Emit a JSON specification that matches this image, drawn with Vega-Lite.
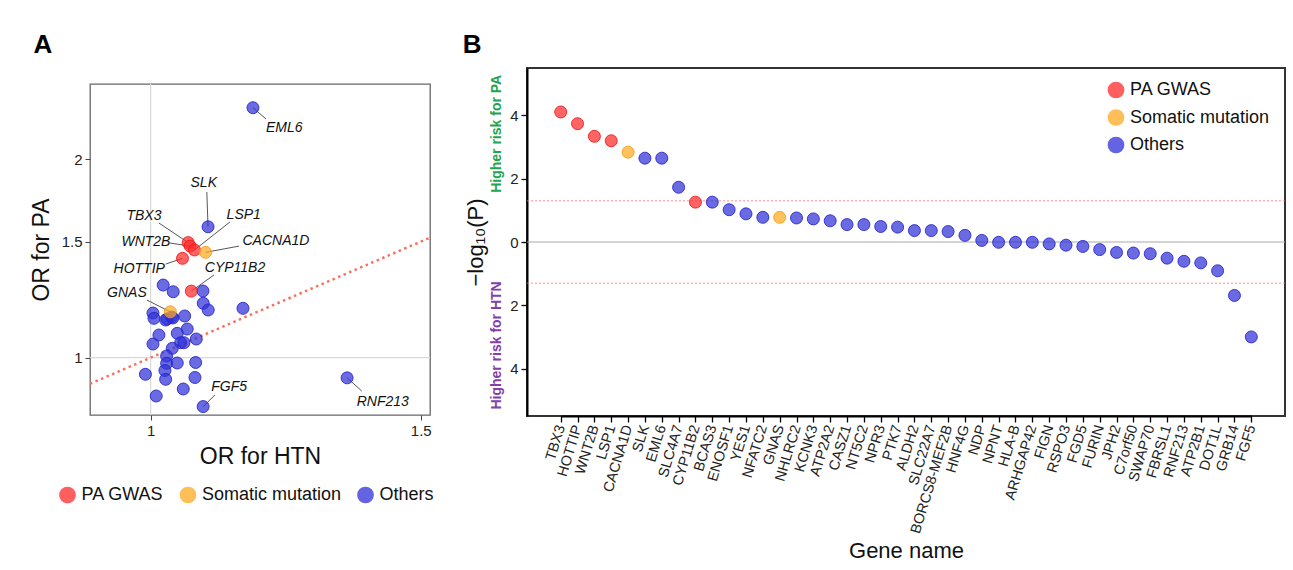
{
  "$schema": "https://vega.github.io/schema/vega-lite/v6.json",
  "padding": {"left": 29, "top": 31, "right": 5, "bottom": 5},
  "background": "white",
  "config": {
    "font": "Liberation Sans",
    "axis": {"grid": false, "labelFont": "Liberation Sans", "titleFont": "Liberation Sans", "labelColor": "#222", "titleColor": "#111", "titleFontWeight": "normal"},
    "legend": {"labelFont": "Liberation Sans"},
    "title": {"font": "Liberation Sans"}
  },
  "align": "none",
  "spacing": 26,
  "resolve": {"scale": {"fill": "independent", "stroke": "independent", "color": "independent"}, "legend": {"fill": "independent", "stroke": "independent", "color": "independent"}},
  "datasets": {
    "genes": [
      {"gene": "TBX3", "group": "PA GWAS", "orHTN": 1.058, "orPA": 1.495, "logp": 4.11},
      {"gene": "HOTTIP", "group": "PA GWAS", "orHTN": 1.049, "orPA": 1.415, "logp": 3.74},
      {"gene": "WNT2B", "group": "PA GWAS", "orHTN": 1.061, "orPA": 1.477, "logp": 3.34},
      {"gene": "LSP1", "group": "PA GWAS", "orHTN": 1.068, "orPA": 1.457, "logp": 3.2},
      {"gene": "CACNA1D", "group": "Somatic mutation", "orHTN": 1.086, "orPA": 1.445, "logp": 2.84},
      {"gene": "SLK", "group": "Others", "orHTN": 1.09, "orPA": 1.58, "logp": 2.65},
      {"gene": "EML6", "group": "Others", "orHTN": 1.166, "orPA": 2.395, "logp": 2.65},
      {"gene": "SLC4A7", "group": "Others", "orHTN": 1.019, "orPA": 1.289, "logp": 1.73},
      {"gene": "CYP11B2", "group": "PA GWAS", "orHTN": 1.063, "orPA": 1.262, "logp": 1.26},
      {"gene": "BCAS3", "group": "Others", "orHTN": 1.0345, "orPA": 1.259, "logp": 1.26},
      {"gene": "ENOSF1", "group": "Others", "orHTN": 1.0817, "orPA": 1.2625, "logp": 1.02},
      {"gene": "YES1", "group": "Others", "orHTN": 1.0035, "orPA": 1.169, "logp": 0.89},
      {"gene": "NFATC2", "group": "Others", "orHTN": 1.005, "orPA": 1.1476, "logp": 0.78},
      {"gene": "GNAS", "group": "Somatic mutation", "orHTN": 1.03, "orPA": 1.174, "logp": 0.78},
      {"gene": "NHLRC2", "group": "Others", "orHTN": 1.0822, "orPA": 1.2094, "logp": 0.76},
      {"gene": "KCNK3", "group": "Others", "orHTN": 1.032, "orPA": 1.1528, "logp": 0.73},
      {"gene": "ATP2A2", "group": "Others", "orHTN": 1.0252, "orPA": 1.1448, "logp": 0.67},
      {"gene": "CASZ1", "group": "Others", "orHTN": 1.0228, "orPA": 1.1408, "logp": 0.55},
      {"gene": "NT5C2", "group": "Others", "orHTN": 1.034, "orPA": 1.149, "logp": 0.55},
      {"gene": "NPR3", "group": "Others", "orHTN": 1.0524, "orPA": 1.1569, "logp": 0.49},
      {"gene": "PTK7", "group": "Others", "orHTN": 1.0903, "orPA": 1.1814, "logp": 0.47},
      {"gene": "ALDH2", "group": "Others", "orHTN": 1.0125, "orPA": 1.0825, "logp": 0.36},
      {"gene": "SLC22A7", "group": "Others", "orHTN": 1.0565, "orPA": 1.1055, "logp": 0.36},
      {"gene": "BORCS8-MEF2B", "group": "Others", "orHTN": 1.0408, "orPA": 1.089, "logp": 0.33},
      {"gene": "HNF4G", "group": "Others", "orHTN": 1.0035, "orPA": 1.049, "logp": 0.21},
      {"gene": "NDP", "group": "Others", "orHTN": 1.1487, "orPA": 1.1884, "logp": 0.05},
      {"gene": "NPNT", "group": "Others", "orHTN": 1.0461, "orPA": 1.0538, "logp": -0.01},
      {"gene": "HLA-B", "group": "Others", "orHTN": 1.0513, "orPA": 1.0538, "logp": -0.01},
      {"gene": "ARHGAP42", "group": "Others", "orHTN": 1.033, "orPA": 1.0334, "logp": -0.01},
      {"gene": "FIGN", "group": "Others", "orHTN": 1.0709, "orPA": 1.0675, "logp": -0.06},
      {"gene": "RSPO3", "group": "Others", "orHTN": 1.0243, "orPA": 1.006, "logp": -0.1},
      {"gene": "FGD5", "group": "Others", "orHTN": 1.0243, "orPA": 0.9806, "logp": -0.14},
      {"gene": "FURIN", "group": "Others", "orHTN": 0.9922, "orPA": 0.9437, "logp": -0.24},
      {"gene": "JPH2", "group": "Others", "orHTN": 1.0408, "orPA": 0.9817, "logp": -0.33},
      {"gene": "C7orf50", "group": "Others", "orHTN": 1.0217, "orPA": 0.9563, "logp": -0.35},
      {"gene": "SWAP70", "group": "Others", "orHTN": 1.0699, "orPA": 0.9834, "logp": -0.37},
      {"gene": "FBRSL1", "group": "Others", "orHTN": 1.0228, "orPA": 0.9273, "logp": -0.51},
      {"gene": "RNF213", "group": "Others", "orHTN": 1.343, "orPA": 0.932, "logp": -0.61},
      {"gene": "ATP2B1", "group": "Others", "orHTN": 1.0688, "orPA": 0.9332, "logp": -0.66},
      {"gene": "DOT1L", "group": "Others", "orHTN": 1.0084, "orPA": 0.8748, "logp": -0.91},
      {"gene": "GRB14", "group": "Others", "orHTN": 1.0502, "orPA": 0.8964, "logp": -1.69},
      {"gene": "FGF5", "group": "Others", "orHTN": 1.082, "orPA": 0.843, "logp": -3.0}
    ],
    "annot": [
      {"gene": "EML6", "tx": 1.222, "ty": 2.231, "ex": 1.189, "ey": 2.303},
      {"gene": "SLK", "tx": 1.083, "ty": 1.841, "ex": 1.088, "ey": 1.784},
      {"gene": "TBX3", "tx": 0.99, "ty": 1.641, "ex": 1.0125, "ey": 1.601},
      {"gene": "LSP1", "tx": 1.15, "ty": 1.646, "ex": 1.1265, "ey": 1.607},
      {"gene": "WNT2B", "tx": 0.993, "ty": 1.498, "ex": 1.029, "ey": 1.493},
      {"gene": "CACNA1D", "tx": 1.207, "ty": 1.503, "ex": 1.142, "ey": 1.477},
      {"gene": "HOTTIP", "tx": 0.983, "ty": 1.363, "ex": 1.023, "ey": 1.387},
      {"gene": "CYP11B2", "tx": 1.135, "ty": 1.368, "ex": 1.0997, "ey": 1.335},
      {"gene": "GNAS", "tx": 0.965, "ty": 1.254, "ex": 0.9945, "ey": 1.223},
      {"gene": "FGF5", "tx": 1.125, "ty": 0.903, "ex": 1.1014, "ey": 0.878},
      {"gene": "RNF213", "tx": 1.417, "ty": 0.857, "ex": 1.373, "ey": 0.89}
    ],
    "ref": [{"v": 1}],
    "diag": [{"v": 0.913}, {"v": 1.521}],
    "hlines": [{"t": 0, "kind": "zero"}, {"t": 1.301, "kind": "sig"}, {"t": -1.301, "kind": "sig"}],
    "sides": [
      {"gene": "TBX3", "label": "Higher risk for PA", "pos": 3.42},
      {"gene": "TBX3", "label": "Higher risk for HTN", "pos": -3.27}
    ]
  },
  "hconcat": [
    {
      "title": {"text": "A", "anchor": "start", "frame": "bounds", "fontSize": 26, "fontWeight": "bold", "color": "#000", "offset": 10, "dx": 4},
      "spacing": 13,
      "vconcat": [
        {
          "width": 340,
          "height": 1,
          "view": {"stroke": null},
          "data": {"name": "ref"},
          "mark": {"type": "rect", "opacity": 0},
          "encoding": {}
        },
        {
          "width": 340,
          "height": 331,
          "view": {"stroke": "#666", "strokeWidth": 1.3},
          "layer": [
            {
              "data": {"name": "ref"},
              "mark": {"type": "rule", "color": "#D9D9D9", "strokeWidth": 1.2},
              "encoding": {
                "x": {"field": "v", "type": "quantitative", "scale": {"type": "log", "domain": [0.913, 1.521], "nice": false, "zero": false},
                  "axis": {"title": "OR for HTN", "values": [1, 1.5], "format": "~g", "domain": false, "grid": false, "tickSize": 5, "tickColor": "#444", "labelFontSize": 15, "titleFontSize": 23, "labelPadding": 3, "titlePadding": 7}}
              }
            },
            {
              "data": {"name": "ref"},
              "mark": {"type": "rule", "color": "#D9D9D9", "strokeWidth": 1.2},
              "encoding": {
                "y": {"field": "v", "type": "quantitative", "scale": {"type": "log", "domain": [0.8186, 2.602], "nice": false, "zero": false},
                  "axis": {"title": "OR for PA", "values": [1, 1.5, 2], "format": "~g", "domain": false, "grid": false, "tickSize": 5, "tickColor": "#444", "labelFontSize": 15, "titleFontSize": 23, "labelPadding": 3, "titlePadding": 8}}
              }
            },
            {
              "data": {"name": "diag"},
              "mark": {"type": "line", "color": "#F4735F", "strokeWidth": 2.5, "strokeDash": [2.5, 3.5], "clip": true},
              "encoding": {
                "x": {"field": "v", "type": "quantitative"},
                "y": {"field": "v", "type": "quantitative"}
              }
            },
            {
              "data": {"name": "annot"},
              "transform": [{"lookup": "gene", "from": {"data": {"name": "genes"}, "key": "gene", "fields": ["orHTN", "orPA"]}}],
              "mark": {"type": "rule", "color": "#444", "strokeWidth": 0.9},
              "encoding": {
                "x": {"field": "orHTN", "type": "quantitative"},
                "y": {"field": "orPA", "type": "quantitative"},
                "x2": {"field": "ex"},
                "y2": {"field": "ey"}
              }
            },
            {
              "data": {"name": "genes"},
              "mark": {"type": "point", "shape": "circle", "filled": true, "size": 144, "fillOpacity": 0.72, "strokeWidth": 1, "strokeOpacity": 0.85},
              "encoding": {
                "x": {"field": "orHTN", "type": "quantitative"},
                "y": {"field": "orPA", "type": "quantitative"},
                "order": {"field": "group", "sort": "ascending"},
                "fill": {"field": "group", "type": "nominal",
                  "scale": {"domain": ["PA GWAS", "Somatic mutation", "Others"], "range": ["#FF2A2A", "#FFAA20", "#3030D8"]},
                  "legend": {"title": null, "orient": "none", "direction": "horizontal", "legendX": -31.5, "legendY": 418, "labelFontSize": 18, "labelColor": "#111", "symbolSize": 280, "symbolType": "circle", "symbolOpacity": 0.75, "symbolStrokeWidth": 0, "columnPadding": 14.5, "labelOffset": 5}},
                "stroke": {"field": "group", "type": "nominal",
                  "scale": {"domain": ["PA GWAS", "Somatic mutation", "Others"], "range": ["#F01818", "#F59A10", "#2424C8"]},
                  "legend": null}
              }
            },
            {
              "data": {"name": "annot"},
              "mark": {"type": "text", "fontStyle": "italic", "fontSize": 14, "color": "#111", "align": "center", "baseline": "middle"},
              "encoding": {
                "x": {"field": "tx", "type": "quantitative"},
                "y": {"field": "ty", "type": "quantitative"},
                "text": {"field": "gene"}
              }
            }
          ]
        }
      ]
    },
    {
      "width": 758,
      "height": 348,
      "view": {"stroke": "#333", "strokeWidth": 2},
      "title": {"text": "B", "anchor": "start", "frame": "bounds", "fontSize": 26, "fontWeight": "bold", "color": "#000", "offset": 10, "dx": -2},
      "layer": [
        {
          "data": {"name": "hlines"},
          "transform": [{"filter": "datum.kind === 'zero'"}],
          "mark": {"type": "rule", "color": "#AAAAAA", "strokeWidth": 1.2},
          "encoding": {
            "y": {"field": "t", "type": "quantitative", "scale": {"domain": [-5.5, 5.5], "nice": false, "zero": false},
              "axis": {"title": "−log₁₀(P)", "values": [-4, -2, 0, 2, 4], "labelExpr": "'' + abs(datum.value)", "domain": true, "domainColor": "#000", "domainWidth": 2, "tickSize": 6, "tickColor": "#000", "tickWidth": 1.3, "labelFontSize": 15, "titleFontSize": 22, "labelPadding": 3, "titlePadding": 22}}
          }
        },
        {
          "data": {"name": "hlines"},
          "transform": [{"filter": "datum.kind === 'sig'"}],
          "mark": {"type": "rule", "color": "#FF7070", "strokeWidth": 1, "strokeDash": [2, 2], "opacity": 0.8},
          "encoding": {
            "y": {"field": "t", "type": "quantitative"}
          }
        },
        {
          "data": {"name": "genes"},
          "mark": {"type": "point", "shape": "circle", "filled": true, "size": 144, "fillOpacity": 0.72, "strokeWidth": 1, "strokeOpacity": 0.85},
          "encoding": {
            "x": {"field": "gene", "type": "nominal", "sort": null, "scale": {"type": "point", "padding": 0, "range": [33.7, 724.3]},
              "axis": {"title": "Gene name", "labelAngle": -73, "labelAlign": "right", "labelBaseline": "middle", "labelFontSize": 14.5, "labelPadding": 3, "tickSize": 6, "tickColor": "#000", "tickWidth": 1.3, "domain": true, "domainColor": "#000", "domainWidth": 2, "titleFontSize": 22, "titlePadding": 6, "labelColor": "#222"}},
            "y": {"field": "logp", "type": "quantitative"},
            "fill": {"field": "group", "type": "nominal",
              "scale": {"domain": ["PA GWAS", "Somatic mutation", "Others"], "range": ["#FF2A2A", "#FFAA20", "#3030D8"]},
              "legend": {"title": null, "orient": "none", "legendX": 580, "legendY": 13, "labelFontSize": 18, "labelColor": "#111", "symbolSize": 280, "symbolType": "circle", "symbolOpacity": 0.75, "symbolStrokeWidth": 0, "rowPadding": 9.5, "labelOffset": 5}},
            "stroke": {"field": "group", "type": "nominal",
              "scale": {"domain": ["PA GWAS", "Somatic mutation", "Others"], "range": ["#F01818", "#F59A10", "#2424C8"]},
              "legend": null}
          }
        },
        {
          "data": {"name": "sides"},
          "mark": {"type": "text", "angle": 270, "fontSize": 14, "fontWeight": "bold", "align": "center", "baseline": "middle", "dy": -63.5},
          "encoding": {
            "x": {"field": "gene", "type": "nominal", "sort": null},
            "y": {"field": "pos", "type": "quantitative"},
            "text": {"field": "label"},
            "color": {"field": "label", "type": "nominal", "scale": {"domain": ["Higher risk for PA", "Higher risk for HTN"], "range": ["#1EA550", "#8440A8"]}, "legend": null}
          }
        }
      ]
    }
  ]
}
